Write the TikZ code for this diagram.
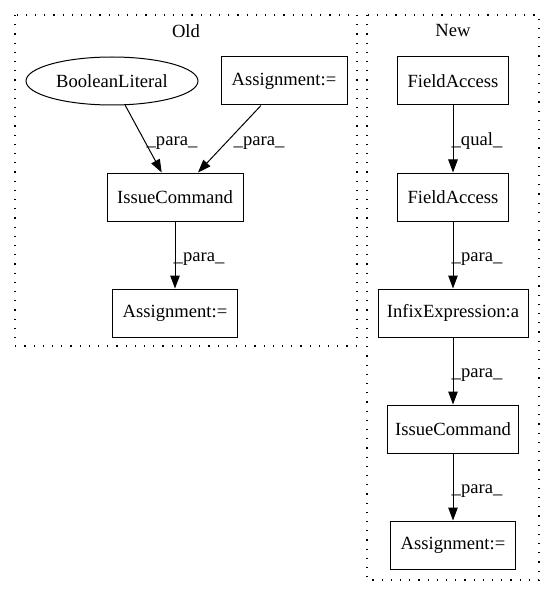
\documentclass[tikz,border=0pt]{standalone}
\usepackage{fontspec}
\setmainfont{Liberation Serif}
\usetikzlibrary{arrows.meta,shapes.geometric}
\begin{document}
\begin{tikzpicture}[x=1pt,y=-1pt,
  every node/.style={font=\fontsize{18.6pt}{21pt}\selectfont, inner sep=0pt},
  box/.style={draw, line width=1pt, minimum height=48pt},
  oval/.style={draw, ellipse, line width=1pt, minimum height=48pt, minimum width=172pt},
  cluster/.style={draw, line width=1.2pt, dash pattern=on 1.2pt off 8pt},
  edge/.style={draw, line width=1pt, -{Triangle[length=13pt,width=9.5pt]}},
  lbl/.style={font=\fontsize{18.6pt}{21pt}\selectfont}]
\useasboundingbox (0,0) rectangle (555,596);
\fill[white] (0,0) rectangle (555,596);
% clusters
\draw[cluster] (15,15) rectangle (357,346);
\draw[cluster] (367,15) rectangle (539,580);
\node[lbl] (toldt) at (186,31) {Old};
\node[lbl] (tnew) at (453,31) {New};
% Old nodes
\node[oval] (bool) at (112,81) {BooleanLiteral};
\node[box, minimum width=126pt] (oa1) at (284,81) {Assignment:=};
\node[box, minimum width=136pt] (oic) at (175,197) {IssueCommand};
\node[box, minimum width=125pt] (oa2) at (175,313) {Assignment:=};
% New nodes
\node[box, minimum width=111pt] (fa1) at (453,81) {FieldAccess};
\node[box, minimum width=111pt] (fa2) at (453,197) {FieldAccess};
\node[box, minimum width=150pt] (inf) at (453,313) {InfixExpression:a};
\node[box, minimum width=131pt] (nic) at (453,429) {IssueCommand};
\node[box, minimum width=125pt] (na) at (453,545) {Assignment:=};
% edges
\draw[edge] (bool) -- (oic);
\draw[edge] (oa1) -- (oic);
\draw[edge] (oic) -- (oa2);
\draw[edge] (fa1) -- (fa2);
\draw[edge] (fa2) -- (inf);
\draw[edge] (inf) -- (nic);
\draw[edge] (nic) -- (na);
% labels
\node[lbl] (l1) at (172,143) {\_para\_};
\node[lbl] (l2) at (259,143) {\_para\_};
\node[lbl] (l3) at (199,259) {\_para\_};
\node[lbl] (l4) at (477,141) {\_qual\_};
\node[lbl] (l5) at (477,259) {\_para\_};
\node[lbl] (l6) at (477,375) {\_para\_};
\node[lbl] (l7) at (477,491) {\_para\_};
\end{tikzpicture}
\end{document}
